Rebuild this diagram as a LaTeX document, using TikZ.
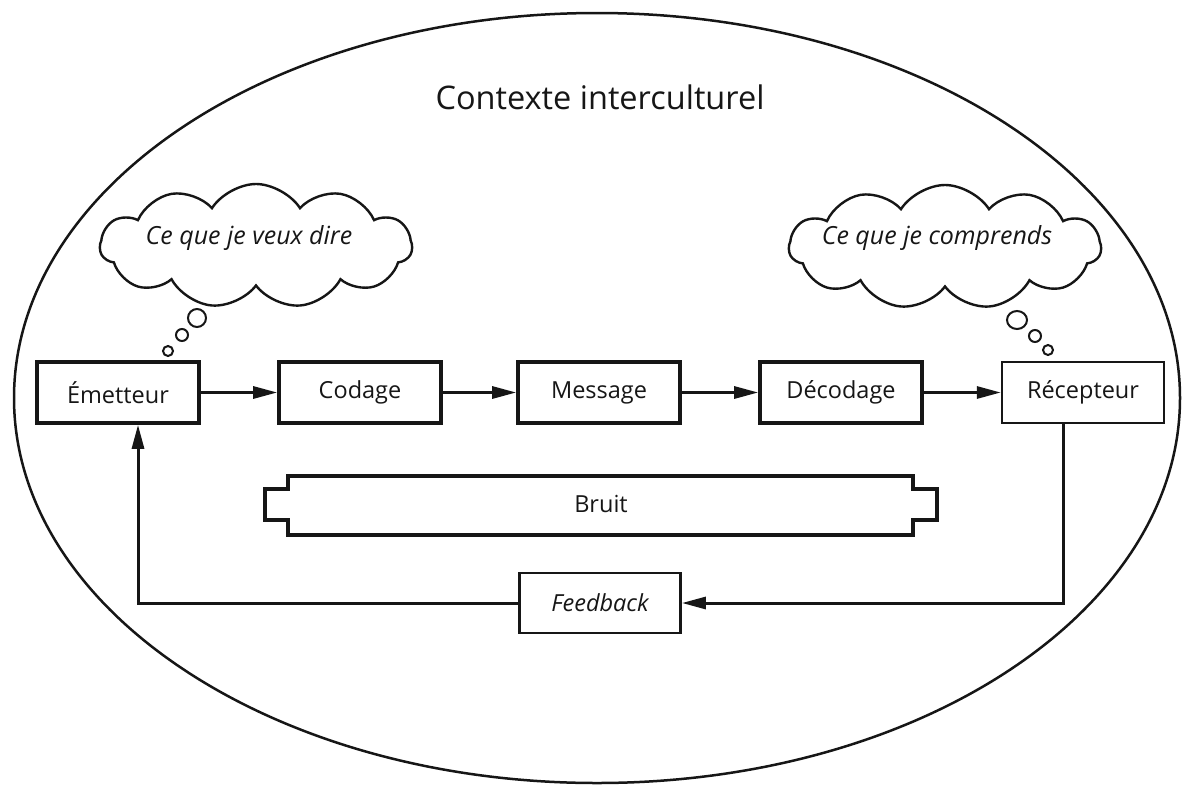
\documentclass[tikz,border=0pt]{standalone}
\usepackage{fontspec}
\setmainfont{Open Sans}
\usetikzlibrary{shapes.symbols,arrows.meta}
\definecolor{ink}{HTML}{161616}
\begin{document}
\begin{tikzpicture}[x=1pt,y=-1pt,
  box/.style={draw=ink, line width=3.6pt, minimum width=162pt, minimum height=61pt, inner sep=0pt, font=\fontsize{23.5}{26}\selectfont, text=ink},
  thinbox/.style={box, line width=2.4pt},
  fbbox/.style={box, line width=2.8pt, minimum width=161pt, minimum height=60pt, font=\itshape\fontsize{23.5}{26}\selectfont},
  arr/.style={line width=3pt, draw=ink, line join=miter, -{Triangle[length=24pt,width=12pt]}},
  thought/.style={cloud, cloud puffs=11, cloud puff arc=115, draw=ink, line width=2.4pt, minimum width=312pt, minimum height=124pt, inner sep=0pt},
  cloudtext/.style={font=\itshape\fontsize{25}{28}\selectfont, text=ink, inner sep=0pt},
  bubble/.style={draw=ink, line width=2pt}
]
\useasboundingbox (0,0) rectangle (1183,785);
% context ellipse
\draw[draw=ink, line width=2.5pt] (597,398) ellipse [x radius=583pt, y radius=385pt];
\node[font=\fontsize{32.5}{36}\selectfont, text=ink] (title) at (600,97) {Contexte interculturel};
% main chain
\node[box] (em) at (118,392.5) {Émetteur};
\node[box] (cod) at (360,392.5) {Codage};
\node[box] (msg) at (599,392.5) {Message};
\node[box] (dec) at (841,392.5) {Décodage};
\node[thinbox] (rec) at (1083,392.5) {Récepteur};
\draw[arr] (em) -- (cod);
\draw[arr] (cod) -- (msg);
\draw[arr] (msg) -- (dec);
\draw[arr] (dec) -- (rec);
% noise
\draw[draw=ink, line width=3.6pt, line join=miter] (288,476) -- (913,476) -- (913,489) -- (937,489) -- (937,520) -- (913,520) -- (913,535) -- (288,535) -- (288,520) -- (265,520) -- (265,489) -- (288,489) -- cycle;
\node[font=\fontsize{23.5}{26}\selectfont, text=ink] (bruit) at (601,504) {Bruit};
% feedback
\node[fbbox] (fb) at (600,603) {Feedback};
\coordinate (r1) at (1063,603);
\coordinate (e1) at (138,603);
\draw[arr] (rec.south -| r1) -- (r1) -- (fb.east);
\draw[arr] (fb.west) -- (e1) -- (em.south -| e1);
% clouds
\node[thought] (c1) at (256,246) {};
\node[cloudtext] (t1) at (249,238) {Ce que je veux dire};
\node[thought] (c2) at (945,247) {};
\node[cloudtext] (t2) at (937,238) {Ce que je comprends};
% thought bubbles
\draw[bubble] (197,318) circle [radius=9pt];
\draw[bubble] (182,335) circle [radius=6pt];
\draw[bubble] (168,351) circle [radius=5pt];
\draw[bubble] (1017,320) ellipse [x radius=10pt, y radius=9pt];
\draw[bubble] (1035,336) circle [radius=6pt];
\draw[bubble] (1048,350) circle [radius=5pt];
\end{tikzpicture}
\end{document}
